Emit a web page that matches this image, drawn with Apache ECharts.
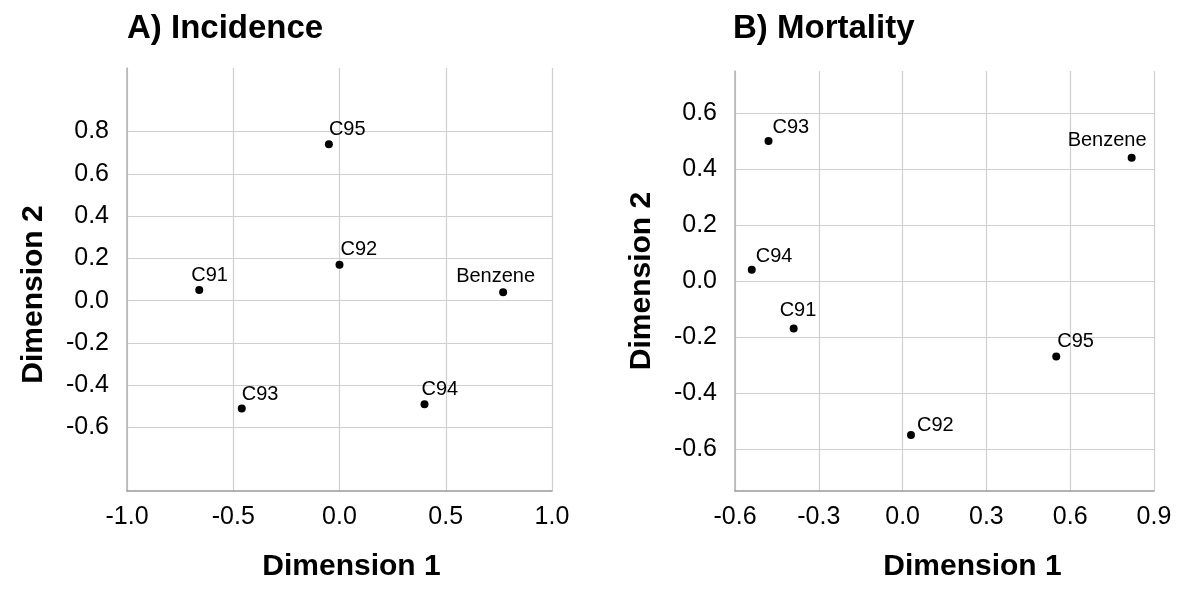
<!DOCTYPE html>
<html>
<head>
<meta charset="utf-8">
<title>MDS plots</title>
<script src="https://cdn.jsdelivr.net/npm/echarts@6/dist/echarts.min.js"></script>
<style>
  html, body { margin: 0; padding: 0; background: #fff; }
  #chart { width: 1180px; height: 599px; }
</style>
</head>
<body>
<div id="chart"></div>
<script>
// data
const names = ['C91', 'C92', 'C93', 'C94', 'C95', 'Benzene']

const dim1A = [-0.66, 0.0, -0.46, 0.40, -0.05, 0.77]
const dim2A = [0.05, 0.17, -0.51, -0.49, 0.74, 0.04]

const dim1B = [-0.39, 0.03, -0.48, -0.54, 0.55, 0.82]
const dim2B = [-0.17, -0.55, 0.50, 0.04, -0.27, 0.44]

const yTicksA = [-0.6, -0.4, -0.2, 0.0, 0.2, 0.4, 0.6, 0.8]
const yTicksB = [-0.6, -0.4, -0.2, 0.0, 0.2, 0.4, 0.6]

// label nudges (px from the dot), text left edge / text bottom
const shiftA = { C91: [-8, -8], C92: [1, -8], C93: [0, -7], C94: [-3, -8], C95: [0, -8], Benzene: [-47, -9] }
const shiftB = { C91: [-14, -11], C92: [6, -3], C93: [4, -7], C94: [4, -6], C95: [1, -8], Benzene: [-64, -10] }

const FONT = 'Liberation Sans, Arial, Helvetica, sans-serif'
const DOT = 8

function points(xs, ys, shift) {
  return names.map((n, i) => ({
    name: n,
    value: [xs[i], ys[i]],
    label: {
      position: [DOT / 2 + shift[n][0], DOT / 2 + shift[n][1] - 7]
    }
  }))
}

function xAxis(idx, min, max, interval, nudge) {
  return {
    type: 'value',
    gridIndex: idx,
    min: min,
    max: max,
    interval: interval,
    name: 'Dimension 1',
    nameLocation: 'middle',
    nameGap: 61,
    nameTextStyle: {
      fontFamily: FONT, fontSize: 30, fontWeight: 'bold', color: '#000',
      padding: [0, 0, 0, nudge * 2]
    },
    axisLine: { show: true, onZero: false, lineStyle: { color: '#999', width: 1.5 } },
    axisTick: { show: false },
    axisLabel: {
      margin: 14,
      fontFamily: FONT,
      fontSize: 25,
      color: '#000',
      formatter: v => v.toFixed(1)
    },
    splitLine: { show: true, lineStyle: { color: '#cfcfcf', width: 1.2 } }
  }
}

function yAxis(idx, min, max, ticks, nudge) {
  return {
    type: 'value',
    gridIndex: idx,
    min: min,
    max: max,
    name: 'Dimension 2',
    nameLocation: 'middle',
    nameGap: 78,
    nameTextStyle: {
      fontFamily: FONT, fontSize: 30, fontWeight: 'bold', color: '#000',
      padding: [0, nudge * 2, 0, 0]
    },
    axisLine: { show: true, onZero: false, lineStyle: { color: '#b3b3b3', width: 1.5 } },
    axisTick: { show: false, customValues: ticks },
    axisLabel: {
      customValues: ticks,
      margin: 18,
      fontFamily: FONT,
      fontSize: 25,
      color: '#000',
      formatter: v => v.toFixed(1)
    },
    splitLine: { show: true, lineStyle: { color: '#cfcfcf', width: 1.2 } }
  }
}

function scatter(idx, data) {
  return {
    type: 'scatter',
    xAxisIndex: idx,
    yAxisIndex: idx,
    symbol: 'circle',
    symbolSize: DOT,
    itemStyle: { color: '#000', opacity: 1 },
    label: {
      show: true,
      formatter: '{b}',
      align: 'left',
      verticalAlign: 'middle',
      fontFamily: FONT,
      fontSize: 20,
      color: '#000'
    },
    emphasis: { disabled: true },
    data: data
  }
}

const chart = echarts.init(document.getElementById('chart'), null, { renderer: 'canvas' })

chart.setOption({
  animation: false,
  backgroundColor: '#fff',
  title: [
    { text: 'A) Incidence', left: 122, top: 7,
      textStyle: { fontFamily: FONT, fontSize: 33, fontWeight: 'bold', color: '#000' } },
    { text: 'B) Mortality', left: 728, top: 7,
      textStyle: { fontFamily: FONT, fontSize: 33, fontWeight: 'bold', color: '#000' } }
  ],
  grid: [
    { left: 127, top: 68, width: 425, height: 423, outerBoundsMode: 'none' },
    { left: 735, top: 71, width: 419, height: 420, outerBoundsMode: 'none' }
  ],
  xAxis: [
    xAxis(0, -1.0, 1.0, 0.5, 12),
    xAxis(1, -0.6, 0.9, 0.3, 28)
  ],
  yAxis: [
    yAxis(0, -0.9, 1.1, yTicksA, 15),
    yAxis(1, -0.75, 0.75, yTicksB, 0)
  ],
  series: [
    scatter(0, points(dim1A, dim2A, shiftA)),
    scatter(1, points(dim1B, dim2B, shiftB))
  ]
})
</script>
</body>
</html>
